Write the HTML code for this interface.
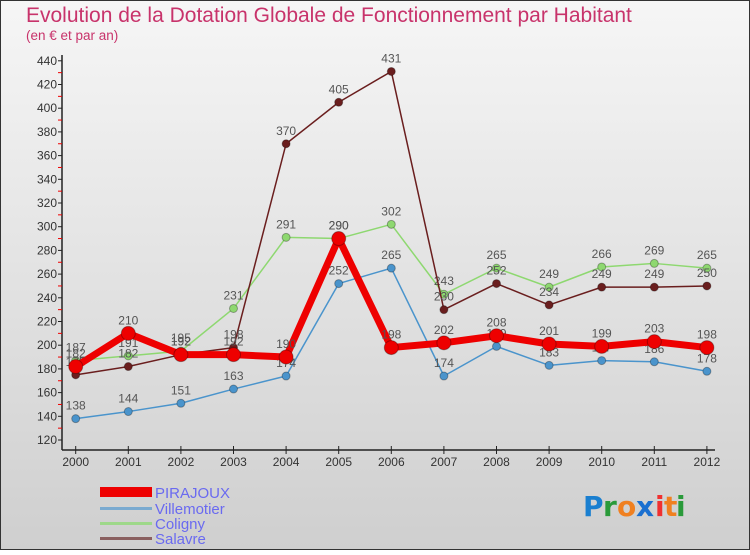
<!DOCTYPE html>
<html><head><meta charset="utf-8"><style>
body{margin:0;width:750px;height:550px;overflow:hidden;font-family:"Liberation Sans",sans-serif}
</style></head><body>
<svg id="c" width="750" height="550" viewBox="0 0 750 550" xmlns="http://www.w3.org/2000/svg">
<defs><linearGradient id="bg" x1="0" y1="0" x2="0" y2="1"><stop offset="0" stop-color="#f6f6f6"/><stop offset="1" stop-color="#cfcfcf"/></linearGradient></defs>
<rect x="0.5" y="0.5" width="749" height="549" fill="url(#bg)" stroke="#333"/>
<text x="26" y="22" font-size="21" fill="#c8336b">Evolution de la Dotation Globale de Fonctionnement par Habitant</text>
<text x="26" y="40" font-size="13.5" fill="#c8336b">(en € et par an)</text>
<g id="axes"></g><g id="series"></g>
<g font-size="15" fill="#6a6af0">
<rect x="100" y="487" width="52" height="10" fill="#ee0000"/><text x="155" y="498">PIRAJOUX</text>
<rect x="100" y="507" width="52" height="3" fill="#7aaad0"/><text x="155" y="514">Villemotier</text>
<rect x="100" y="522" width="52" height="3" fill="#9ed88a"/><text x="155" y="529">Coligny</text>
<rect x="100" y="537" width="52" height="3" fill="#8a6060"/><text x="155" y="544">Salavre</text>
</g>
<g font-size="28" font-weight="bold" font-family="'DejaVu Sans',sans-serif">
<text x="583" y="516" fill="#1a7fd0">P</text><text x="603" y="516" fill="#2a9a3a">r</text><text x="617" y="516" fill="#f08020">o</text><text x="636" y="516" fill="#1a6fd0">x</text><text x="655" y="516" fill="#f03030">i</text><text x="664" y="516" fill="#f08020">t</text><text x="676" y="516" fill="#2a9a3a">i</text>
</g>
</svg>
<script>
const years=[2000,2001,2002,2003,2004,2005,2006,2007,2008,2009,2010,2011,2012];
const yTicks=[120,140,160,180,200,220,240,260,280,300,320,340,360,380,400,420,440];
const pirajoux=[182,210,192,192,190,290,198,202,208,201,199,203,198];
const villemotier=[138,144,151,163,174,252,265,174,199,183,187,186,178];
const coligny=[187,191,195,231,291,290,302,243,265,249,266,269,265];
const salavre=[175,182,192,198,370,405,431,230,252,234,249,249,250];
const NS="http://www.w3.org/2000/svg";
const x=i=>75.7+i*52.6;
const y=v=>440-(v-120)*1.185;
function mk(tag,attrs,parent){const e=document.createElementNS(NS,tag);for(const k in attrs)e.setAttribute(k,attrs[k]);parent.appendChild(e);return e;}
const ax=document.getElementById('axes');
const yAxis=mk('line',{x1:62,y1:55,x2:62,y2:450,stroke:'#222','stroke-width':1.5},ax);


const xAxis=mk('line',{x1:62,y1:450,x2:715,y2:450,stroke:'#222','stroke-width':1.5},ax);


yTicks.forEach(t=>{
  mk('line',{x1:58,y1:y(t),x2:62,y2:y(t),stroke:'#222'},ax);
  if(t<440) mk('line',{x1:58,y1:y(t+10),x2:62,y2:y(t+10),stroke:'#e00'},ax);
  const tx=mk('text',{x:57,y:y(t)+4,'text-anchor':'end','font-size':12,fill:'#333'},ax);
  tx.textContent=t;
  
  
});
years.forEach((yr,i)=>{
  mk('line',{x1:x(i),y1:446,x2:x(i),y2:454,stroke:'#222'},ax);
  const tx=mk('text',{x:x(i),y:466,'text-anchor':'middle','font-size':12,fill:'#333'},ax);
  tx.textContent=yr;
  
  
});
const sg=document.getElementById('series');
function draw(vals,name,color,width,r){
  const g=mk('g',{},sg);
  
  
  mk('polyline',{points:vals.map((v,i)=>x(i)+','+y(v)).join(' '),fill:'none',stroke:color,'stroke-width':width,'stroke-linejoin':'round'},g);
  vals.forEach((v,i)=>{
    const c=mk('circle',{cx:x(i),cy:y(v),r:r,fill:color,stroke:'rgba(0,0,0,0.3)'},g);
    
    
    const t=mk('text',{x:x(i),y:y(v)-9,'text-anchor':'middle','font-size':12,fill:'#555'},g);
    t.textContent=v;
    
    
  });
}
draw(villemotier,'villemotier','#4a94cc',1.5,4);
draw(coligny,'coligny','#8ed870',1.5,4);
draw(salavre,'salavre','#6a1e1e',1.5,4);
draw(pirajoux,'pirajoux','#ee0000',7,7);
</script>
</body></html>
